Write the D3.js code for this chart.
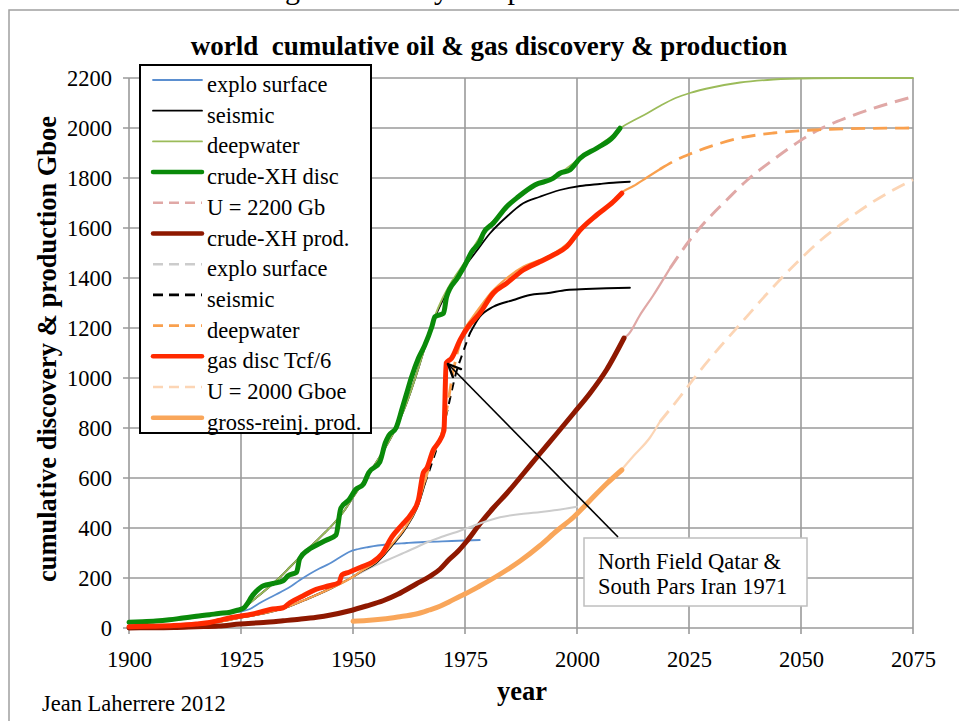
<!DOCTYPE html>
<html>
<head>
<meta charset="utf-8">
<script src="https://cdn.jsdelivr.net/npm/d3@7"></script>
<style>
	body { margin: 0; background: #fff; }
	svg { display: block; }
	text { font-family: "Liberation Serif", "Times New Roman", serif; fill: #000; }
</style>
</head>
<body>
<svg id="chart" width="959" height="721"></svg>
<script>
//=================== DATA ([year, Gboe]) ====================================
var xTicks = [1900, 1925, 1950, 1975, 2000, 2025, 2050, 2075];
var yTicks = [0, 200, 400, 600, 800, 1000, 1200, 1400, 1600, 1800, 2000, 2200];

var exploOil = [[1900,20],[1905,24],[1910,32],[1915,42],[1920,55],[1923,62],[1925,66],[1927,76],[1929,98],[1931.5,122],
	[1934,145],[1936,165],[1938,190],[1940.3,216],[1942.5,238],[1944.7,257],[1947,282],[1949.1,304],[1951,315],
	[1953.5,324],[1955.5,330],[1957.9,335],[1962,340],[1966.8,345],[1972,348],[1975,350],[1978.3,352]];

var seismicOil = [[1900,20],[1905,25],[1910,33],[1915,45],[1920,58],[1925,76],[1928.5,123],[1931,160],[1933.7,203],
	[1936,245],[1938.1,283],[1940,318],[1941.9,349],[1943.8,383],[1945.6,416],[1948,468],[1950,523],[1953,603],
	[1955.9,683],[1958.9,776],[1961.9,896],[1964,1005],[1966,1120],[1968,1230],[1970,1310],[1972,1375],[1975,1448],
	[1977.2,1499],[1980.6,1579],[1984.3,1645],[1988,1699],[1991.7,1725],[1996.2,1752],[2000.7,1768],[2005.1,1776],
	[2008.1,1781],[2011.8,1785]];

var deepOil = [[1900,20],[1905,25],[1910,33],[1915,45],[1920,58],[1925,76],[1928.5,123],[1931,160],[1933.7,203],
	[1936,245],[1938.1,283],[1940,318],[1941.9,349],[1943.8,383],[1945.6,416],[1948,468],[1950,523],[1953,603],
	[1955.9,683],[1958.9,776],[1961.9,896],[1964,1005],[1966,1120],[1968,1235],[1970,1320],[1972,1385],[1975,1465],
	[1978,1555],[1980,1605],[1982,1640],[1985,1695],[1988,1735],[1991,1775],[1994,1798],[1997,1830],[2000,1870],
	[2003,1905],[2006,1945],[2008,1970],[2010,2003],[2012.6,2030],[2015.6,2058],[2018.5,2088],[2022,2120],
	[2025.2,2140],[2030.4,2163],[2036.4,2182],[2043.8,2194],[2052.7,2199],[2060,2200],[2075,2200]];

var crudeDisc = [[1900,23],[1903,25],[1906,28],[1909,33],[1912,40],[1915,47],[1918,53],[1920,58],[1922.6,63],
	[1924,70],[1925.6,80],[1927.8,135],[1930,169],[1932.2,178],[1934.4,189],[1935.5,209],[1937.4,223],[1938.1,277],
	[1939.9,311],[1941.8,331],[1944,351],[1946.2,372],[1947.3,480],[1949.1,513],[1950.6,554],[1952.3,575],
	[1953.5,621],[1956,665],[1957.2,740],[1958,770],[1959.6,800],[1961,880],[1962,940],[1963,1000],[1964.6,1079],
	[1966,1130],[1967.6,1205],[1968.3,1245],[1970.2,1259],[1970.9,1325],[1973.5,1405],[1975,1452],[1976.5,1505],
	[1978.3,1545],[1979.1,1579],[1981.3,1619],[1984.3,1685],[1986.9,1725],[1990.6,1772],[1994.7,1799],
	[1996.2,1819],[1998.4,1832],[2000.7,1879],[2004.4,1919],[2008.1,1965],[2009.6,1999]];

var u2200 = [[2010.5,1160],[2011.5,1175],[2014,1250],[2017,1330],[2020.8,1440],[2025.2,1552],[2028.9,1630],
	[2033.4,1712],[2037.9,1790],[2043.8,1873],[2049.8,1949],[2054.2,1995],[2060.2,2041],[2067.6,2087],[2075,2125]];

var crudeProd = [[1900,0],[1905,1],[1910,2],[1915,5],[1920,8],[1924.8,16],[1930,22],[1934.4,29],[1938,35],
	[1941.9,43],[1945,52],[1949.3,69],[1953,88],[1956.7,109],[1960,135],[1964.1,176],[1967,205],[1969.4,235],
	[1971.5,275],[1973.5,308],[1975.3,345],[1978.3,416],[1981.3,480],[1984.3,538],[1988,617],[1991.7,697],
	[1995.5,778],[1999.2,858],[2002.9,939],[2006.6,1033],[2010.5,1160]];

var exploGas = [[1900,3],[1905,5],[1910,8],[1915,13],[1920,24],[1925,42],[1930,58],[1935,82],[1940,118],[1945,158],
	[1950,205],[1953.5,238],[1957.2,268],[1960.9,297],[1963.8,320],[1966.8,345],[1969.4,362],[1973.9,389],
	[1978.3,418],[1982.8,443],[1990.2,461],[1995.5,472],[2000,485]];

var seismicGas = [[1900,3],[1905,5],[1910,8],[1915,13],[1920,24],[1925,42],[1930,58],[1935,82],[1940,118],[1945,158],
	[1950,205],[1952,228],[1955,258],[1958.7,330],[1961.6,395],[1964.6,495],[1966,575],[1968,680],[1969,735],
	[1970,795],[1971,865],[1972,945],[1973,1020],[1974.2,1085],[1976.1,1179],[1978.3,1245],[1981.3,1285],
	[1985.8,1312],[1989.5,1332],[1993.2,1339],[1997.7,1352],[2002,1356],[2006.6,1359],[2011.8,1361]];

var deepGas = [[1900,3],[1905,5],[1910,8],[1915,13],[1920,24],[1925,42],[1930,58],[1935,82],[1940,118],[1945,158],
	[1950,205],[1952,230],[1955,262],[1958.7,335],[1961.6,400],[1964.6,500],[1966,585],[1968,700],[1970,790],
	[1971,880],[1972,990],[1973,1080],[1975,1200],[1978,1275],[1981,1345],[1984,1395],[1988,1445],[1991.7,1472],
	[1995,1500],[1998,1540],[2000.7,1592],[2004.4,1655],[2008.1,1708],[2010,1743],[2012.6,1768],[2015.6,1802],
	[2018.5,1835],[2021.9,1870],[2025.2,1896],[2030.4,1930],[2036.4,1960],[2043.8,1980],[2052.7,1992],
	[2060,1997],[2075,2000]];

var gasDisc = [[1900,5],[1905,7],[1910,10],[1915,16],[1918,22],[1920,30],[1922.6,41],[1925,48],[1927.1,54],
	[1929,62],[1931.5,74],[1934.4,81],[1935.9,101],[1938.8,128],[1941.8,155],[1944.7,169],[1946.9,182],
	[1947.5,212],[1949.1,223],[1952.1,246],[1954.3,263],[1956.5,297],[1958.7,365],[1960.9,412],[1963.1,459],
	[1964.6,513],[1965.7,621],[1966.5,640],[1967.9,712],[1969,740],[1970.3,790],[1970.8,1060],[1972,1079],
	[1973.9,1152],[1975.7,1205],[1978.3,1259],[1981.3,1339],[1984.3,1379],[1988,1432],[1991.7,1465],
	[1994.7,1492],[1997.7,1525],[2000.7,1592],[2004.4,1652],[2008.1,1705],[2010,1739]];

var u2000 = [[2010,634],[2012.6,688],[2016.3,762],[2018.5,825],[2023,925],[2026.7,1012],[2031.9,1124],
	[2036.4,1215],[2042.3,1335],[2048.3,1448],[2054.2,1548],[2060.2,1632],[2066.1,1705],[2075,1793]];

var grossProd = [[1950,27],[1953,30],[1956.7,36],[1960,44],[1964.1,56],[1967,72],[1969.4,87],[1971.5,105],
	[1973.9,127],[1975.2,138],[1978.3,168],[1982.8,215],[1987.3,268],[1991.7,329],[1995.5,389],[1999.2,443],
	[2002.9,510],[2006.6,577],[2010,632]];

// North Field / South Pars callout: arrow from box to the 1971 jump
var calloutLines = ["North Field Qatar &", "South Pars Iran 1971"];
var calloutTip = [1971.2, 1056];

//=================== STYLES (legend order = draw order) ======================
var series = [
	{ name: "explo surface",      data: exploOil,   color: "#5b8fd0", width: 1.8 },
	{ name: "seismic",            data: seismicOil, color: "#000000", width: 1.8 },
	{ name: "deepwater",          data: deepOil,    color: "#9bbb59", width: 1.8 },
	{ name: "crude-XH disc",      data: crudeDisc,  color: "#0a8a0a", width: 5 },
	{ name: "U = 2200 Gb",        data: u2200,      color: "#e0a8a6", width: 3,   dash: "14,8", spans: [[2021, 2080]] },
	{ name: "crude-XH prod.",     data: crudeProd,  color: "#8e1800", width: 5 },
	{ name: "explo surface",      data: exploGas,   color: "#cccccc", width: 2,   dash: "8,6",  spans: [] },
	{ name: "seismic",            data: seismicGas, color: "#000000", width: 2,   dash: "8,6",  spans: [[1966, 1976]] },
	{ name: "deepwater",          data: deepGas,    color: "#f9a04e", width: 2.8, dash: "14,8", spans: [[1966, 1976], [2019, 2080]] },
	{ name: "gas disc Tcf/6",     data: gasDisc,    color: "#ff2a00", width: 5 },
	{ name: "U = 2000 Gboe",      data: u2000,      color: "#fcd5b5", width: 2.8, dash: "14,8", spans: [[2019, 2080]] },
	{ name: "gross-reinj. prod.", data: grossProd,  color: "#f9a65a", width: 5 }
];

//=================== SETUP ====================================
var svg = d3.select("#chart");
var gridColour = "#9a9a9a";

var x = d3.scaleLinear().domain([1900, 2075]).range([129, 913]);
var y = d3.scaleLinear().domain([0, 2200]).range([628, 78]);

var line = d3.line()
	.curve(d3.curveMonotoneX)
	.x(function (d) { return x(d[0]); })
	.y(function (d) { return y(d[1]); });

// outer frame of the chart area
svg.append("rect")
	.attr("x", 9).attr("y", 10)
	.attr("width", 1000).attr("height", 800)
	.attr("fill", "none")
	.attr("stroke", "#a0a0a0")
	.attr("stroke-width", 1.5);

// bottom of a heading that is cut off by the top of the picture
var topString = "world oil & gas discovery and production";
var topText = svg.append("text")
	.attr("y", -1)
	.style("font-size", "30px")
	.text(topString);
var offG = topText.node().getSubStringLength(0, topString.indexOf("gas"));
topText.attr("x", 285 - offG);

//=================== GRID & AXES ====================================
svg.append("g").selectAll("line").data(yTicks).enter().append("line")
	.attr("x1", x(1900) - 6).attr("x2", x(2075))
	.attr("y1", function (d) { return y(d); })
	.attr("y2", function (d) { return y(d); })
	.attr("stroke", gridColour).attr("stroke-width", 1.6);

svg.append("g").selectAll("line").data(xTicks).enter().append("line")
	.attr("x1", function (d) { return x(d); })
	.attr("x2", function (d) { return x(d); })
	.attr("y1", y(2200)).attr("y2", y(0) + 6)
	.attr("stroke", gridColour).attr("stroke-width", 1.6);

var xAxis = svg.append("g")
	.attr("transform", "translate(0," + y(0) + ")")
	.call(d3.axisBottom(x).tickValues(xTicks).tickSize(0).tickFormat(d3.format("d")));
xAxis.select(".domain").remove();
xAxis.selectAll("text")
	.attr("y", 39).attr("dy", 0)
	.style("font-size", "22.5px")
	.style("font-family", "'Liberation Serif', serif");

var yAxis = svg.append("g")
	.attr("transform", "translate(" + x(1900) + ",0)")
	.call(d3.axisLeft(y).tickValues(yTicks).tickSize(0).tickFormat(d3.format("d")));
yAxis.select(".domain").remove();
yAxis.selectAll("text")
	.attr("x", -17)
	.style("font-size", "22.5px")
	.style("font-family", "'Liberation Serif', serif");

//=================== SERIES ====================================
// split a series into runs that are drawn solid or dashed
function runs(data, spans) {
	var out = [];
	for (var i = 0; i < data.length - 1; i++) {
		var mid = (data[i][0] + data[i + 1][0]) / 2;
		var dashed = (spans || []).some(function (s) { return mid >= s[0] && mid <= s[1]; });
		var last = out[out.length - 1];
		if (last && last.dashed === dashed) {
			last.pts.push(data[i + 1]);
		} else {
			out.push({ dashed: dashed, pts: [data[i], data[i + 1]] });
		}
	}
	return out;
}

var plot = svg.append("g");
series.forEach(function (s) {
	var r = s.dash ? runs(s.data, s.spans) : [{ dashed: false, pts: s.data }];
	r.forEach(function (run) {
		plot.append("path")
			.attr("d", line(run.pts))
			.attr("fill", "none")
			.attr("stroke", s.color)
			.attr("stroke-width", run.dashed ? s.width : Math.min(s.width, s.dash ? 2.2 : s.width))
			.attr("stroke-dasharray", run.dashed ? s.dash : null)
			.attr("stroke-linejoin", "round")
			.attr("stroke-linecap", run.dashed ? "butt" : "round");
	});
});

//=================== CALLOUT ====================================
var box = { x: 584, y: 538, w: 223, h: 68 };
svg.append("rect")
	.attr("x", box.x).attr("y", box.y)
	.attr("width", box.w).attr("height", box.h)
	.attr("fill", "#fff")
	.attr("stroke", "#bfbfbf").attr("stroke-width", 1.5);
svg.append("g").selectAll("text").data(calloutLines).enter().append("text")
	.attr("x", box.x + 14)
	.attr("y", function (d, i) { return box.y + 31 + i * 25; })
	.style("font-size", "22.5px")
	.text(function (d) { return d; });

var tail = [618, box.y - 1];
var tip = [x(calloutTip[0]), y(calloutTip[1])];
svg.append("line")
	.attr("x1", tail[0]).attr("y1", tail[1])
	.attr("x2", tip[0]).attr("y2", tip[1])
	.attr("stroke", "#000").attr("stroke-width", 1.6);
var ang = Math.atan2(tail[1] - tip[1], tail[0] - tip[0]);
[-0.42, 0.42].forEach(function (da) {
	svg.append("line")
		.attr("x1", tip[0]).attr("y1", tip[1])
		.attr("x2", tip[0] + 14 * Math.cos(ang + da))
		.attr("y2", tip[1] + 14 * Math.sin(ang + da))
		.attr("stroke", "#000").attr("stroke-width", 2.4)
		.attr("stroke-linecap", "round");
});

//=================== LEGEND ====================================
var legend = svg.append("g");
legend.append("rect")
	.attr("x", 140).attr("y", 65)
	.attr("width", 231).attr("height", 368)
	.attr("fill", "#fff")
	.attr("stroke", "#000").attr("stroke-width", 2);

var rowH = 30.7;
var items = legend.selectAll("g.item").data(series).enter().append("g")
	.attr("class", "item")
	.attr("transform", function (d, i) { return "translate(0," + (80 + i * rowH) + ")"; });
items.append("line")
	.attr("x1", 153).attr("x2", 202)
	.attr("stroke", function (d) { return d.color; })
	.attr("stroke-width", function (d) { return d.width > 4 ? 4.5 : (d.dash ? 2.6 : 1.8); })
	.attr("stroke-dasharray", function (d) { return d.dash ? "10,6" : null; })
	.attr("stroke-linecap", function (d) { return d.dash ? "butt" : "round"; });
items.append("text")
	.attr("x", 207).attr("y", 12)
	.style("font-size", "22.5px")
	.text(function (d) { return d.name; });

//=================== TITLES ====================================
svg.append("text")
	.attr("x", 489).attr("y", 55)
	.attr("text-anchor", "middle")
	.style("font-size", "27px").style("font-weight", "bold")
	.style("white-space", "pre")
	.text("world  cumulative oil & gas discovery & production");

svg.append("text")
	.attr("transform", "translate(56,349) rotate(-90)")
	.attr("text-anchor", "middle")
	.style("font-size", "26.5px").style("font-weight", "bold")
	.text("cumulative discovery & production Gboe");

svg.append("text")
	.attr("x", 522).attr("y", 700)
	.attr("text-anchor", "middle")
	.style("font-size", "26.5px").style("font-weight", "bold")
	.text("year");

svg.append("text")
	.attr("x", 42).attr("y", 711)
	.style("font-size", "22.5px")
	.text("Jean Laherrere 2012");
</script>
</body>
</html>
